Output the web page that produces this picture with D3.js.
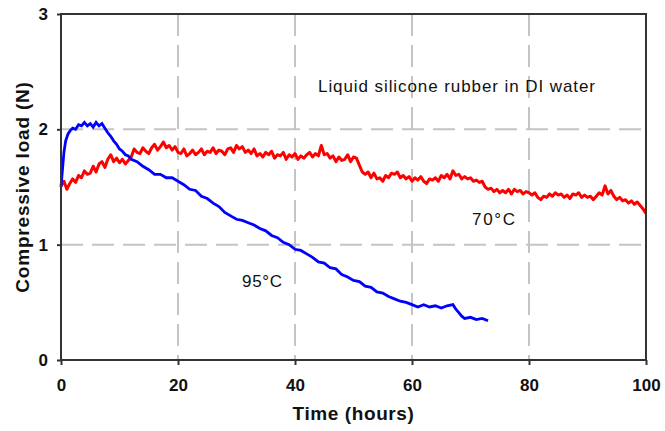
<!DOCTYPE html>
<html><head><meta charset="utf-8">
<script src="https://cdn.jsdelivr.net/npm/d3@7"></script>
<style>body{margin:0;background:#fff}svg{display:block}</style>
</head><body>
<svg id="c" width="665" height="431"></svg>
<script>
const xTicks = [0, 20, 40, 60, 80, 100];
const yTicks = [0, 1, 2, 3];
const xTitle = "Time (hours)";
const yTitle = "Compressive load (N)";
const note = "Liquid silicone rubber in DI water";
const seriesNames = ["70°C", "95°C"];

// 70°C series: [time (h), load (N)]
const red70 = [
[0,1.51],[0.5,1.55],[1,1.48],[1.5,1.53],[2,1.57],[2.5,1.54],[3,1.60],[3.5,1.58],[4,1.64],[4.5,1.61],
[5,1.62],[5.5,1.68],[6,1.63],[6.5,1.70],[7,1.72],[7.5,1.67],[8,1.74],[8.5,1.78],[9,1.72],[9.5,1.75],
[10,1.71],[10.5,1.74],[11,1.70],[11.5,1.73],[12,1.76],[12.5,1.83],[13,1.80],[13.5,1.79],[14,1.84],[14.5,1.81],
[15,1.79],[15.5,1.84],[16,1.87],[16.5,1.82],[17,1.85],[17.5,1.89],[18,1.84],[18.5,1.86],[19,1.82],[19.5,1.85],
[20,1.80],[20.5,1.79],[21,1.83],[21.5,1.77],[22,1.79],[22.5,1.82],[23,1.78],[23.5,1.80],[24,1.83],[24.5,1.78],
[25,1.81],[25.5,1.80],[26,1.84],[26.5,1.79],[27,1.82],[27.5,1.81],[28,1.78],[28.5,1.83],[29,1.84],[29.5,1.80],
[30,1.86],[30.5,1.83],[31,1.85],[31.5,1.80],[32,1.82],[32.5,1.79],[33,1.83],[33.5,1.77],[34,1.79],[34.5,1.76],
[35,1.80],[35.5,1.78],[36,1.81],[36.5,1.75],[37,1.78],[37.5,1.77],[38,1.80],[38.5,1.74],[39,1.78],[39.5,1.76],
[40,1.79],[40.5,1.74],[41,1.77],[41.5,1.75],[42,1.78],[42.5,1.80],[43,1.76],[43.5,1.79],[44,1.77],[44.5,1.86],
[45,1.78],[45.5,1.79],[46,1.75],[46.5,1.77],[47,1.72],[47.5,1.76],[48,1.73],[48.5,1.74],[49,1.78],[49.5,1.72],
[50,1.76],[50.5,1.75],[51,1.69],[51.5,1.63],[52,1.61],[52.5,1.63],[53,1.58],[53.5,1.62],[54,1.57],[54.5,1.58],
[55,1.55],[55.5,1.60],[56,1.58],[56.5,1.62],[57,1.61],[57.5,1.63],[58,1.58],[58.5,1.60],[59,1.57],[59.5,1.59],
[60,1.55],[60.5,1.58],[61,1.56],[61.5,1.59],[62,1.55],[62.5,1.53],[63,1.57],[63.5,1.56],[64,1.58],[64.5,1.55],
[65,1.60],[65.5,1.58],[66,1.61],[66.5,1.57],[67,1.64],[67.5,1.60],[68,1.61],[68.5,1.57],[69,1.59],[69.5,1.57],
[70,1.58],[70.5,1.55],[71,1.56],[71.5,1.54],[72,1.55],[72.5,1.50],[73,1.48],[73.5,1.49],[74,1.46],[74.5,1.48],
[75,1.45],[75.5,1.47],[76,1.45],[76.5,1.48],[77,1.44],[77.5,1.48],[78,1.46],[78.5,1.47],[79,1.44],[79.5,1.46],
[80,1.45],[80.5,1.43],[81,1.45],[81.5,1.41],[82,1.39],[82.5,1.42],[83,1.41],[83.5,1.44],[84,1.42],[84.5,1.45],
[85,1.43],[85.5,1.44],[86,1.41],[86.5,1.43],[87,1.40],[87.5,1.44],[88,1.43],[88.5,1.45],[89,1.41],[89.5,1.43],
[90,1.41],[90.5,1.42],[91,1.39],[91.5,1.42],[92,1.45],[92.5,1.43],[93,1.51],[93.5,1.44],[94,1.47],[94.5,1.42],
[95,1.39],[95.5,1.41],[96,1.38],[96.5,1.39],[97,1.36],[97.5,1.38],[98,1.35],[98.5,1.37],[99,1.34],[99.5,1.31],
[100,1.27]
];

// 95°C series: [time (h), load (N)]
const blue95 = [
[0,1.50],[0.2,1.62],[0.5,1.80],[0.8,1.90],[1.2,1.96],[1.6,1.99],[2,2.01],[2.5,2.00],[3,2.04],[3.5,2.03],
[4,2.06],[4.5,2.03],[5,2.05],[5.5,2.02],[6,2.06],[6.5,2.03],[7,2.05],[7.5,2.01],[8,1.97],[8.5,1.94],
[9,1.90],[9.5,1.87],[10,1.83],[10.5,1.81],[11,1.78],[11.5,1.77],[12,1.74],[13,1.72],[14,1.68],[15,1.65],
[16,1.61],[17,1.61],[18,1.58],[19,1.58],[20,1.55],[21,1.52],[22,1.48],[23,1.47],[24,1.42],[25,1.40],
[26,1.36],[27,1.33],[28,1.28],[29,1.25],[30,1.22],[31,1.21],[32,1.19],[33,1.17],[34,1.14],[35,1.12],
[36,1.08],[37,1.06],[38,1.02],[39,1.00],[40,0.96],[41,0.95],[42,0.92],[43,0.89],[44,0.85],[45,0.84],
[46,0.80],[47,0.79],[48,0.74],[49,0.72],[50,0.69],[51,0.68],[52,0.64],[53,0.63],[54,0.59],[55,0.58],
[56,0.55],[57,0.53],[58,0.51],[59,0.50],[60,0.48],[61,0.46],[62,0.48],[63,0.46],[64,0.47],[65,0.45],
[66,0.47],[67,0.48],[67.5,0.44],[68,0.41],[68.5,0.38],[69,0.36],[70,0.37],[71,0.35],[72,0.36],[73,0.34]
];

const svg = d3.select("#c");
const m = {left: 61, right: 19, top: 14, bottom: 71};
const W = 665, H = 431;
const x = d3.scaleLinear().domain([0, 100]).range([m.left, W - m.right]);
const y = d3.scaleLinear().domain([0, 3]).range([H - m.bottom, m.top]);
const FONT = "Liberation Sans, Arial, sans-serif";

// gridlines
const grid = svg.append("g").attr("stroke", "#c4c4c4").attr("stroke-width", 2).attr("stroke-dasharray", "22,9");
grid.selectAll(".gx").data(xTicks.filter(d => d > 0 && d < 100)).join("line")
  .attr("x1", d => x(d)).attr("x2", d => x(d)).attr("y1", y(3)).attr("y2", y(0));
grid.selectAll(".gy").data(yTicks.filter(d => d > 0 && d < 3)).join("line")
  .attr("x1", x(0)).attr("x2", x(100)).attr("y1", d => y(d)).attr("y2", d => y(d));

// lines
const line = d3.line().x(d => x(d[0])).y(d => y(d[1]));
svg.append("path").datum(red70).attr("d", line).attr("fill", "none")
  .attr("stroke", "#ff0000").attr("stroke-width", 3).attr("stroke-linejoin", "round");
svg.append("path").datum(blue95).attr("d", line).attr("fill", "none")
  .attr("stroke", "#0000ff").attr("stroke-width", 2.8);

// frame
svg.append("rect").attr("x", x(0)).attr("y", y(3)).attr("width", x(100) - x(0)).attr("height", y(0) - y(3))
  .attr("fill", "none").attr("stroke", "#333").attr("stroke-width", 2);

// axes
const xAxis = svg.append("g").attr("transform", `translate(0,${y(0)})`)
  .call(d3.axisBottom(x).tickValues(xTicks).tickSize(5).tickPadding(14).tickFormat(d3.format("d")));
const yAxis = svg.append("g").attr("transform", `translate(${x(0)},0)`)
  .call(d3.axisLeft(y).tickValues(yTicks).tickSize(4).tickPadding(9).tickFormat(d3.format("d")));
[xAxis, yAxis].forEach(a => {
  a.select(".domain").remove();
  a.selectAll(".tick line").attr("stroke", "#333").attr("stroke-width", 2);
  a.selectAll("text").attr("fill", "#111").style("font-family", FONT)
    .style("font-size", "17px").style("font-weight", "bold");
});

// titles
svg.append("text").attr("x", x(50)).attr("y", 420).attr("text-anchor", "middle")
  .style("font-family", FONT).style("font-size", "19px").style("font-weight", "bold")
  .style("letter-spacing", "0.6px").attr("fill", "#111").text(xTitle);
svg.append("text").attr("transform", `translate(29,${(y(0) + y(3)) / 2}) rotate(-90)`).attr("text-anchor", "middle")
  .style("font-family", FONT).style("font-size", "19px").style("font-weight", "bold")
  .style("letter-spacing", "0.8px").attr("fill", "#111").text(yTitle);

// annotations
const ann = svg.append("g").style("font-family", FONT).style("font-size", "17px").attr("fill", "#111");
ann.append("text").attr("x", 318).attr("y", 92).attr("textLength", 277).attr("lengthAdjust", "spacing").text(note);
ann.append("text").attr("x", 472).attr("y", 225).attr("textLength", 43).attr("lengthAdjust", "spacing").text(seriesNames[0]);
ann.append("text").attr("x", 242).attr("y", 287).attr("textLength", 40).attr("lengthAdjust", "spacing").text(seriesNames[1]);
</script>
</body></html>
